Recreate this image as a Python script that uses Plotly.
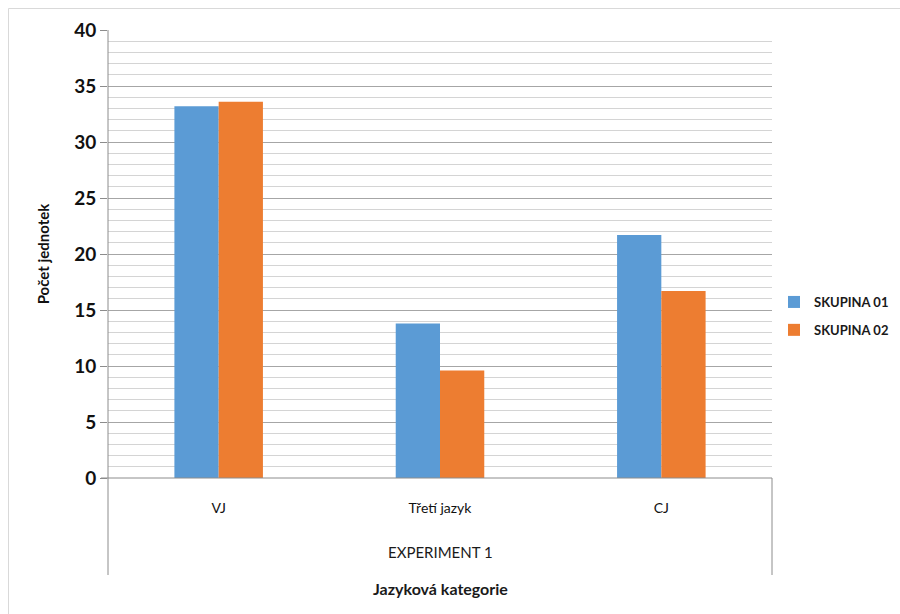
import plotly.graph_objects as go

categories = ["VJ", "Třetí jazyk", "CJ"]
skupina_01 = [33.2, 13.8, 21.7]
skupina_02 = [33.6, 9.6, 16.7]
series_names = ["SKUPINA 01", "SKUPINA 02"]
series_colors = ["#5b9bd5", "#ed7d31"]
y_ticks = [0, 5, 10, 15, 20, 25, 30, 35, 40]
group_label = "EXPERIMENT 1"
x_title = "Jazyková kategorie"
y_title = "Počet jednotek"

W, H = 900, 614
L, R, T, B = 108, 772, 30, 478
FONT = "Lato"


def px(x):
    return (x - L) / (R - L)


def py(y):
    return (B - y) / (B - T)


fig = go.Figure()
for name, vals, color, grp in zip(series_names, [skupina_01, skupina_02], series_colors, ["a", "b"]):
    fig.add_trace(go.Bar(
        x=categories, y=vals, name=name, legendgroup=grp,
        marker=dict(color=color, line=dict(width=0)),
    ))

line_col = "#8c8c8c"
shapes = [
    # chart frame
    dict(type="rect", xref="paper", yref="paper", x0=px(8.5), x1=px(905), y0=py(620), y1=py(8.5),
         line=dict(color="#d9d9d9", width=1), layer="below"),
    # value axis line, extended through the category area
    dict(type="line", xref="paper", yref="paper", x0=0, x1=0, y0=py(575), y1=1,
         line=dict(color=line_col, width=1)),
    # right edge of the group box
    dict(type="line", xref="paper", yref="paper", x0=1, x1=1, y0=py(575), y1=0,
         line=dict(color=line_col, width=1)),
    # category axis line
    dict(type="line", xref="paper", yref="paper", x0=px(101), x1=1, y0=0, y1=0,
         line=dict(color=line_col, width=1)),
]

annotations = [
    dict(text=group_label, xref="paper", yref="paper", x=0.5, y=py(552), showarrow=False,
         font=dict(family=FONT, size=15, color="#1a1a1a"), xanchor="center", yanchor="middle"),
    dict(text="<b>" + x_title + "</b>", xref="paper", yref="paper", x=0.5, y=py(588), showarrow=False,
         font=dict(family=FONT, size=16, color="#1a1a1a"), xanchor="center", yanchor="middle"),
]

fig.update_layout(
    width=W, height=H,
    margin=dict(l=L, r=W - R, t=T, b=H - B, autoexpand=False),
    paper_bgcolor="white", plot_bgcolor="white",
    barmode="group", bargap=0.6, bargroupgap=0,
    font=dict(family=FONT, color="#1a1a1a"),
    shapes=shapes, annotations=annotations,
    legend=dict(x=px(774), y=py(287), xanchor="left", yanchor="top",
                font=dict(family=FONT, size=13, color="#1a1a1a", weight="bold"),
                tracegroupgap=8, itemwidth=30, bgcolor="rgba(0,0,0,0)"),
    showlegend=True,
)

fig.update_xaxes(
    type="category", showgrid=False, showline=False, zeroline=False, ticks="",
    tickfont=dict(family=FONT, size=14, color="#111111"), ticklabelstandoff=20,
)
fig.update_yaxes(
    range=[0, 40], tickvals=y_ticks, showline=False, zeroline=False,
    gridcolor="#a6a6a6", gridwidth=1,
    ticks="outside", ticklen=7, tickcolor=line_col,
    tickfont=dict(family=FONT, size=19, color="#111111", weight="bold"),
    minor=dict(dtick=1, showgrid=True, gridcolor="#d4d4d4", gridwidth=1, ticks=""),
    title=dict(text="<b>" + y_title + "</b>", font=dict(family=FONT, size=15, color="#111111"), standoff=20),
)

fig.write_html("out.html")
